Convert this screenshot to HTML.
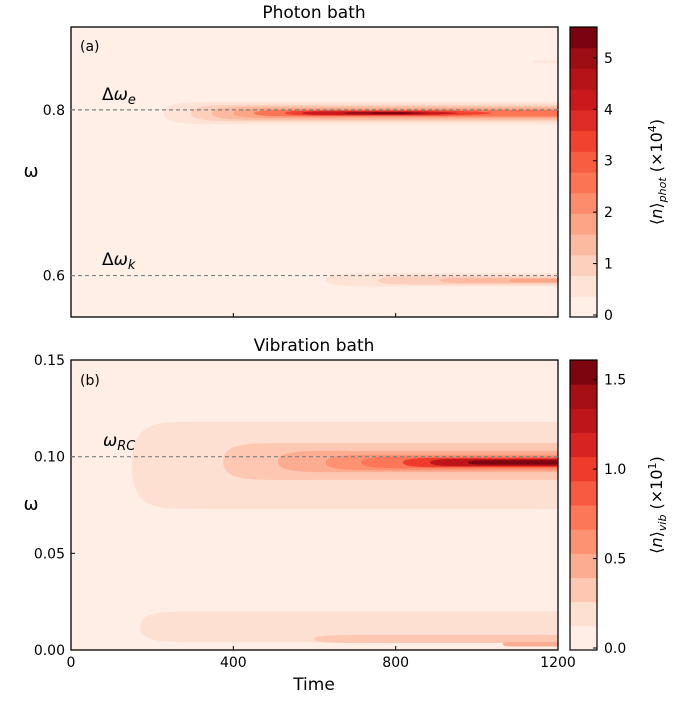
<!DOCTYPE html>
<html><head><meta charset="utf-8"><style>
body{margin:0;background:#fff;font-family:"DejaVu Sans","Liberation Sans",sans-serif}
svg text{font-family:"DejaVu Sans","Liberation Sans",sans-serif}
</style></head><body>
<svg id="c" width="700" height="700" xmlns="http://www.w3.org/2000/svg"></svg>
<script>
// top panel layers: [level, tStart, tEnd, omegaCenter, halfHeight]
const topLevels=[1,2,3,4,6,8,10,12,13,1,2,3,4,1];
const topT0=[229,296,347,400,451,527,569,673,739,628,757,910,1080,1140];
const topT1=[1200,1200,1200,1200,1200,1037,954,877,843,1200,1200,1200,1200,1200];
const topC=[0.796,0.796,0.796,0.796,0.796,0.796,0.796,0.796,0.796,0.595,0.594,0.594,0.594,0.858];
const topH=[0.0135,0.01,0.008,0.006,0.004,0.003,0.0022,0.0014,0.0009,0.008,0.005,0.003,0.002,0.0012];
// bottom panel layers
const botLevels=[1,2,3,4,5,7,9,11,1,2,3];
const botT0=[150,375,510,628,715,818,885,978,170,599,1064];
const botT1=[1200,1200,1200,1200,1200,1200,1200,1200,1200,1200,1200];
const botC=[0.0955,0.0975,0.0975,0.097,0.097,0.097,0.097,0.097,0.012,0.0057,0.003];
const botH=[0.0225,0.0095,0.0055,0.004,0.003,0.0024,0.0018,0.0011,0.008,0.0021,0.0012];
const xTicks=[0,400,800,1200];
const topYTicks=[0.6,0.8];
const botYTicks=[0.00,0.05,0.10,0.15];
const topCbTicks=[0,1,2,3,4,5];
const botCbTicks=[0.0,0.5,1.0,1.5];

const NS="http://www.w3.org/2000/svg",svg=document.getElementById('c');
function el(t,a,p){const e=document.createElementNS(NS,t);for(const k in a)e.setAttribute(k,a[k]);(p||svg).appendChild(e);return e;}
const stops=[[255,245,240],[254,224,210],[252,187,161],[252,146,114],[251,106,74],[239,59,44],[203,24,29],[165,15,21],[103,0,13]];
function cmap(f){f=Math.max(0,Math.min(1,f))*8;const i=Math.min(7,Math.floor(f)),r=f-i,a=stops[i],b=stops[i+1];
return `rgb(${a.map((v,k)=>Math.round(v+(b[k]-v)*r)).join(',')})`;}
const X0=71,X1=558;
const sx=t=>X0+(t/1200)*(X1-X0);
function panel(id,Y0,Y1,ymin,ymax,nLev,L,T0,T1,C,H){
  const sy=w=>Y1-(w-ymin)/(ymax-ymin)*(Y1-Y0);
  const g=el('g',{});  
  const cp=el('clipPath',{id:id+'clip'},g); el('rect',{x:X0,y:Y0,width:X1-X0,height:Y1-Y0},cp);
  const col=i=>cmap((i+0.5)/nLev);
  el('rect',{x:X0,y:Y0,width:X1-X0,height:Y1-Y0,fill:col(0),},g);
  const cg=el('g',{'clip-path':`url(#${id}clip)`},g);
  for(let i=0;i<L.length;i++){
    const a=sx(T0[i]),b=sx(T1[i]),c=sy(C[i]),h=Math.abs(sy(C[i]+H[i])-c);
    const cap=Math.min(60,(b-a)*0.3);const rt=T1[i]>=1200;
    let d=`M${a},${c} C${a},${c-h} ${a+cap*0.4},${c-h} ${a+cap},${c-h} L${rt?b+2:b-cap},${c-h}`;
    d+=rt?` L${b+2},${c+h}`:` C${b-cap*0.6},${c-h} ${b},${c-h*0.4} ${b},${c} C${b},${c+h*0.4} ${b-cap*0.6},${c+h} ${b-cap},${c+h}`;
    d+=` L${a+cap},${c+h} C${a+cap*0.4},${c+h} ${a},${c+h} ${a},${c} Z`;
    const p=el('path',{d,fill:col(L[i])},cg);
    
    
  }
  return {sy,g,col};
}
function axes(id,Y0,Y1,P,yt,ytf,cbTicks,cbMax,nLev,title,cbLab){
  const g=P.g;
  el('rect',{x:X0,y:Y0,width:X1-X0,height:Y1-Y0,fill:'none',stroke:'#000','stroke-width':1.3,},g);
  xTicks.forEach(t=>el('line',{x1:sx(t),x2:sx(t),y1:Y1,y2:Y1-4,stroke:'#000'},g));
  yt.forEach(v=>{el('line',{x1:X0,x2:X0+4,y1:P.sy(v),y2:P.sy(v),stroke:'#000'},g);
    const t=el('text',{x:X0-6,y:P.sy(v)+5,'text-anchor':'end','font-size':14,},g);t.textContent=v.toFixed(ytf);});
  const tt=el('text',{x:314,y:Y0-9,'text-anchor':'middle','font-size':17,},g);tt.textContent=title;
  const yl=el('text',{x:31,y:(Y0+Y1)/2+5,'text-anchor':'middle','font-size':18,},g);yl.textContent='ω';
  const cx=570,cw=27,bh=(Y1-Y0)/nLev;
  for(let i=0;i<nLev;i++){const r=el('rect',{x:cx,y:Y1-(i+1)*bh,width:cw,height:bh+0.5,fill:P.col(i)},g);
    }
  el('rect',{x:cx,y:Y0,width:cw,height:Y1-Y0,fill:'none',stroke:'#000','stroke-width':1.2,},g);
  cbTicks.forEach(v=>{const y=Y1-2-v/cbMax*(Y1-2-Y0);el('line',{x1:cx+cw-4,x2:cx+cw,y1:y,y2:y,stroke:'#000'},g);
    const t=el('text',{x:cx+cw+7,y:y+5,'font-size':14,},g);t.textContent=cbTicks[1]<1?v.toFixed(1):v;});
  const cl=el('text',{transform:`translate(662,${(Y0+Y1)/2}) rotate(-90)`,'text-anchor':'middle','font-size':16,},g);cl.innerHTML=cbLab;
}
function dash(P,w,label,sub,lx,ly){
  el('line',{x1:X0,x2:X1,y1:P.sy(w),y2:P.sy(w),stroke:'#808080','stroke-width':1.2,'stroke-dasharray':'4,3',},P.g);
  const t=el('text',{x:lx,y:ly,'font-size':17,},P.g);t.innerHTML=label+`<tspan font-size="13" dy="4" font-style="italic">${sub}</tspan>`;
}
const A=panel('photon',27,317,0.55,0.9,14,topLevels,topT0,topT1,topC,topH);
axes('photon',27,317,A,topYTicks,1,topCbTicks,5.6,14,'Photon bath','⟨<tspan font-style="italic">n</tspan>⟩<tspan font-size="11" dy="4" font-style="italic">phot</tspan><tspan dy="-4"> (×10</tspan><tspan font-size="11" dy="-6">4</tspan><tspan dy="6">)</tspan>');
dash(A,0.8,'Δ<tspan font-style="italic">ω</tspan>','e',102,100);
dash(A,0.6,'Δ<tspan font-style="italic">ω</tspan>','k',102,265);
let t=el('text',{x:80,y:51,'font-size':14,});t.textContent='(a)';
const B=panel('vibration',360,650,0,0.15,12,botLevels,botT0,botT1,botC,botH);
axes('vibration',360,650,B,botYTicks,2,botCbTicks,1.61,12,'Vibration bath','⟨<tspan font-style="italic">n</tspan>⟩<tspan font-size="11" dy="4" font-style="italic">vib</tspan><tspan dy="-4"> (×10</tspan><tspan font-size="11" dy="-6">1</tspan><tspan dy="6">)</tspan>');
dash(B,0.1,'<tspan font-style="italic">ω</tspan>','RC',103,446);
t=el('text',{x:80,y:385,'font-size':14,});t.textContent='(b)';
xTicks.forEach(v=>{const e=el('text',{x:sx(v),y:667,'text-anchor':'middle','font-size':14,});e.textContent=v;});
t=el('text',{x:314,y:690,'text-anchor':'middle','font-size':17,});t.textContent='Time';
</script></body></html>
